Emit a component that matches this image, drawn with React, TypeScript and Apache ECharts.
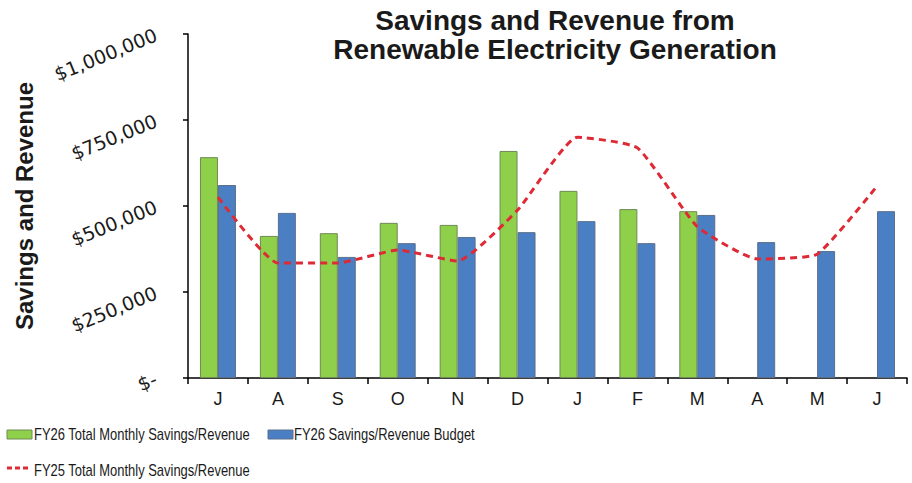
import React, { useEffect, useRef } from "react";
import * as echarts from "echarts";

const months = ["J", "A", "S", "O", "N", "D", "J", "F", "M", "A", "M", "J"];
const fy26Actual = [642000, 413000, 421000, 451000, 445000, 660000, 544000, 491000, 485000, null, null, null];
const fy26Budget = [561000, 480000, 352000, 392000, 410000, 424000, 456000, 392000, 474000, 395000, 369000, 485000];
const fy25Actual = [526000, 334000, 334000, 372000, 340000, 488000, 700000, 669000, 440000, 346000, 360000, 558000];
const yTicks = [0, 250000, 500000, 750000, 1000000];
const seriesNames = [
  "FY26 Total Monthly Savings/Revenue",
  "FY26 Savings/Revenue Budget",
  "FY25 Total Monthly Savings/Revenue",
];

const SANS = "'Liberation Sans', Arial, sans-serif";
const GREEN = "#8ed04a";
const BLUE = "#4a7fc4";
const RED = "#dd2a35";

function fmt(v: number): string {
  if (v === 0) return "$-";
  return "$" + v.toLocaleString("en-US");
}

export default function App() {
  const ref = useRef<HTMLDivElement>(null);
  useEffect(() => {
    if (!ref.current) return;
    const chart = echarts.init(ref.current, null, { renderer: "svg" });
    const legendText = (text: string, x: number, y: number, sx: number) => ({
      type: "text",
      x,
      y,
      scaleX: sx,
      style: {
        text,
        x: 0,
        y: 0,
        fontFamily: SANS,
        fontSize: 16,
        fill: "#1a1a1a",
        verticalAlign: "middle",
        align: "left",
      },
    });
    chart.setOption({
      animation: false,
      backgroundColor: "#ffffff",
      title: {
        text: "Savings and Revenue from\nRenewable Electricity Generation",
        left: 550,
        textAlign: "center",
        top: 1,
        textStyle: {
          fontFamily: SANS,
          fontWeight: "bold",
          fontSize: 28,
          lineHeight: 29,
          color: "#1a1a1a",
        },
      },
      graphic: [
        {
          type: "rect",
          shape: { x: 7, y: 430, width: 25, height: 9 },
          style: { fill: GREEN, stroke: "#6f8a55", lineWidth: 1 },
        },
        legendText(seriesNames[0], 34, 435, 0.81),
        {
          type: "rect",
          shape: { x: 268, y: 430, width: 25, height: 9 },
          style: { fill: BLUE, stroke: "#5a6f8a", lineWidth: 1 },
        },
        legendText(seriesNames[1], 294, 435, 0.81),
        {
          type: "line",
          shape: { x1: 7, y1: 468, x2: 30, y2: 468 },
          style: { stroke: RED, lineWidth: 3, lineDash: [5, 3] },
        },
        legendText(seriesNames[2], 34, 471, 0.81),
      ],
      grid: { left: 188, right: 5, top: 34, bottom: 105, containLabel: false, outerBoundsMode: "none" },
      xAxis: {
        type: "category",
        data: months,
        boundaryGap: true,
        axisLine: { lineStyle: { color: "#000", width: 1.5 } },
        axisTick: { show: true, length: 6, lineStyle: { color: "#000", width: 1.5 } },
        axisLabel: { fontFamily: SANS, fontSize: 18, color: "#1a1a1a", margin: 12 },
      },
      yAxis: {
        type: "value",
        min: 0,
        max: 1000000,
        interval: 250000,
        name: "Savings and Revenue",
        nameLocation: "middle",
        nameRotate: 90,
        nameGap: 152,
        nameTextStyle: { fontFamily: SANS, fontWeight: "bold", fontSize: 24, color: "#1a1a1a" },
        axisLine: { show: true, lineStyle: { color: "#000", width: 1.5 } },
        axisTick: { show: true, length: 5, lineStyle: { color: "#000", width: 1.5 } },
        splitLine: { show: false },
        axisLabel: {
          fontFamily: "'DejaVu Sans', sans-serif",
          fontSize: 19,
          color: "#1a1a1a",
          rotate: 22,
          margin: 32,
          formatter: (v: number) => (yTicks.includes(v) ? fmt(v) : ""),
        },
      },
      series: [
        {
          name: seriesNames[0],
          type: "bar",
          data: fy26Actual,
          barGap: "0%",
          barCategoryGap: "40%",
          itemStyle: { color: GREEN, borderColor: "#6f8a55", borderWidth: 1 },
        },
        {
          name: seriesNames[1],
          type: "bar",
          data: fy26Budget,
          barGap: "0%",
          barCategoryGap: "40%",
          itemStyle: { color: BLUE, borderColor: "#5a6f8a", borderWidth: 1 },
        },
        {
          name: seriesNames[2],
          type: "line",
          data: fy25Actual,
          symbol: "none",
          smooth: 0.15,
          lineStyle: { color: RED, width: 3, type: [7, 5] },
          itemStyle: { color: RED },
          z: 5,
        },
      ],
    });
    return () => chart.dispose();
  }, []);
  return <div ref={ref} style={{ width: 912, height: 483, position: "absolute", left: 0, top: 0 }} />;
}
